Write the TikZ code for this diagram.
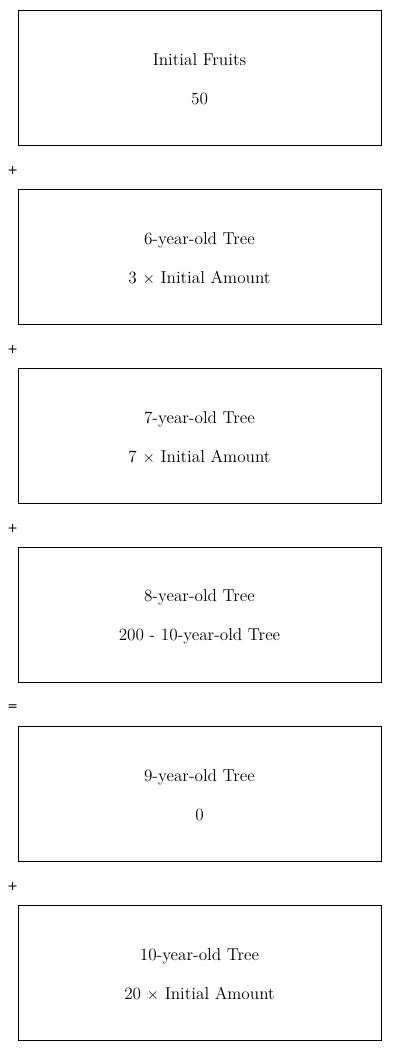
\documentclass[tikz,border=0pt]{standalone}
\usepackage{fontspec}
\newfontfamily\opfont{DejaVu Sans}
\usetikzlibrary{positioning}

\begin{document}
\begin{tikzpicture}[
 term/.style={draw=black,line width=.75pt,minimum width=272.25pt,minimum height=101.25pt,inner sep=0pt,outer sep=0pt,align=center,font=\fontsize{12.9}{15}\selectfont},
 op/.style={font=\opfont\fontsize{9.5}{11}\selectfont,inner sep=0pt},
 node distance=33pt]
 \useasboundingbox (0,0) rectangle (300pt,-788.25pt);
 \node[term,anchor=north west] (fruits) at (13.5pt,-7.5pt) {\rule{0pt}{12pt}Initial Fruits\\[14pt]50};
 \node[term,below=of fruits] (six) {\rule{0pt}{12pt}6-year-old Tree\\[14pt]3 $\times$ Initial Amount};
 \node[term,below=of six] (seven) {\rule{0pt}{12pt}7-year-old Tree\\[14pt]7 $\times$ Initial Amount};
 \node[term,below=of seven] (eight) {\rule{0pt}{12pt}8-year-old Tree\\[14pt]200 - 10-year-old Tree};
 \node[term,below=of eight] (nine) {\rule{0pt}{12pt}9-year-old Tree\\[14pt]0};
 \node[term,below=of nine] (ten) {\rule{0pt}{12pt}10-year-old Tree\\[14pt]20 $\times$ Initial Amount};
 % operators between the terms
 \node[op] (p1) at ([xshift=-3.9pt,yshift=-19.5pt]fruits.south west) {+};
 \node[op] (p2) at ([xshift=-3.9pt,yshift=-19.5pt]six.south west) {+};
 \node[op] (p3) at ([xshift=-3.9pt,yshift=-19.5pt]seven.south west) {+};
 \node[op] (eq) at ([xshift=-3.9pt,yshift=-19.5pt]eight.south west) {=};
 \node[op] (p4) at ([xshift=-3.9pt,yshift=-19.5pt]nine.south west) {+};
\end{tikzpicture}
\end{document}
